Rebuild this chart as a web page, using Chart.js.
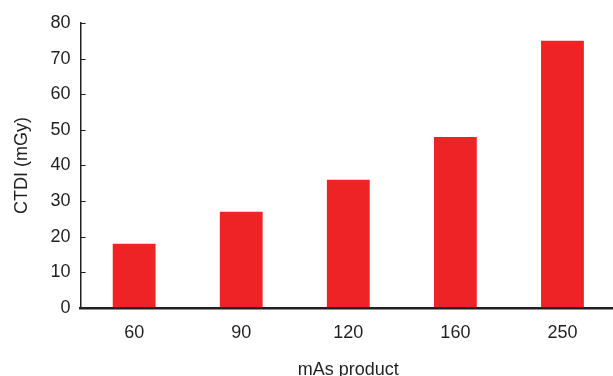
<!DOCTYPE html>
<html lang="en">
<head>
    <meta charset="UTF-8">
    <title>CTDI vs mAs</title>
    <script src="https://cdn.jsdelivr.net/npm/chart.js"></script>
    <style>
        body { margin: 0; padding: 0; overflow: hidden; background: #fff; }
        #chart-container { position: relative; width: 616px; height: 381px; }
    </style>
</head>
<body>

<div id="chart-container">
    <canvas id="ctdiChart"></canvas>
</div>

<script>
    // values
    const mAsLabels = ['60', '90', '120', '160', '250'];
    const ctdiValues = [18, 27, 36, 48, 75];
    const yMin = 0;
    const yMax = 80;
    const yStep = 10;

    const textColor = '#231f20';

    // short tick marks pointing into the plot, like the original
    const innerTicks = {
        id: 'innerTicks',
        afterDraw(chart) {
            const y = chart.scales.y;
            const c = chart.ctx;
            c.save();
            c.strokeStyle = textColor;
            c.lineWidth = 1;
            y.ticks.forEach(t => {
                const py = Math.round(y.getPixelForValue(t.value)) + 0.5;
                if (t.value === yMin) return;
                c.beginPath();
                c.moveTo(y.right, py);
                c.lineTo(y.right + 5, py);
                c.stroke();
            });
            c.restore();
        }
    };

    Chart.defaults.font.family = '"Liberation Sans", Arial, sans-serif';
    Chart.defaults.color = textColor;

    const ctx = document.getElementById('ctdiChart').getContext('2d');
    const ctdiChart = new Chart(ctx, {
        type: 'bar',
        data: {
            labels: mAsLabels,
            datasets: [{
                label: 'CTDI (mGy)',
                data: ctdiValues,
                backgroundColor: '#ee2325',
                categoryPercentage: 1.0,
                barPercentage: 0.4
            }]
        },
        options: {
            responsive: true,
            maintainAspectRatio: false,
            animation: false,
            layout: { padding: { top: 23, left: 11, right: 0, bottom: 0 } },
            plugins: {
                legend: { display: false },
                tooltip: { enabled: false }
            },
            scales: {
                x: {
                    grid: { display: false, drawTicks: false },
                    border: { display: true, color: textColor, width: 2.5 },
                    ticks: { font: { size: 18 }, padding: 14 },
                    title: {
                        display: true,
                        text: 'mAs product',
                        font: { size: 18 },
                        padding: { top: 2, bottom: 0 }
                    }
                },
                y: {
                    min: yMin,
                    max: yMax,
                    grid: { drawOnChartArea: false, drawTicks: false },
                    border: { display: true, color: textColor, width: 1.5 },
                    ticks: { stepSize: yStep, font: { size: 18 }, padding: 10 },
                    title: {
                        display: true,
                        text: 'CTDI (mGy)',
                        font: { size: 18 },
                        padding: { top: 0, bottom: 8 }
                    }
                }
            }
        },
        plugins: [innerTicks]
    });
</script>

</body>
</html>
